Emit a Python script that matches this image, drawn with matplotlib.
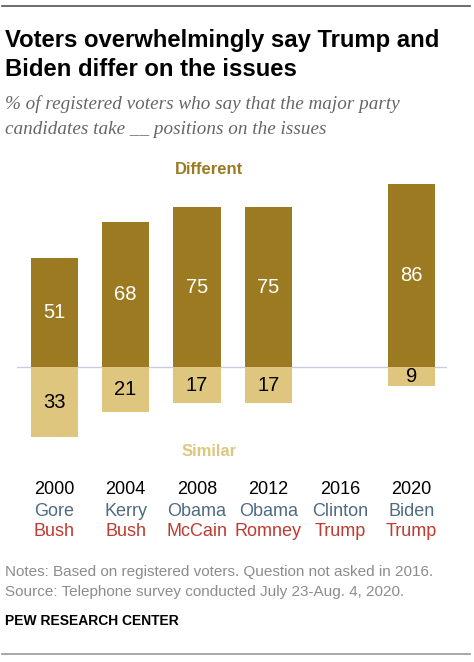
#!/usr/bin/env python3
import matplotlib
matplotlib.use('Agg')
import matplotlib.pyplot as plt
from matplotlib.transforms import blended_transform_factory

years = ['2000', '2004', '2008', '2012', '2016', '2020']
dem_candidates = ['Gore', 'Kerry', 'Obama', 'Obama', 'Clinton', 'Biden']
rep_candidates = ['Bush', 'Bush', 'McCain', 'Romney', 'Trump', 'Trump']
different = [51, 68, 75, 75, None, 86]
similar = [33, 21, 17, 17, None, 9]

DARK = '#9b7a22'
LIGHT = '#dfc67e'
DEM = '#4f6b80'
REP = '#bf3a2f'

W, H = 474, 662


def fy(px):
    # pixel from top -> figure fraction
    return 1 - px / H


def fx(px):
    return px / W


def main():
    plt.rcParams['font.family'] = ['Liberation Sans', 'DejaVu Sans']
    fig = plt.figure(figsize=(W / 100, H / 100), dpi=100)

    # plot area: x from 17 to 447 px, y from 160 to 460 px
    ax = fig.add_axes([fx(17), fy(460), fx(447) - fx(17), (460 - 160) / H])
    ax.set_xlim(-0.52, 5.5)
    ax.set_ylim(-43.7, 97.2)
    ax.axis('off')

    ax.axhline(0, color='#c8cce0', lw=1, zorder=1)

    for i in range(len(years)):
        d, s = different[i], similar[i]
        if d is None:
            continue
        ax.bar(i, d, width=0.66, color=DARK, zorder=2)
        ax.bar(i, -s, width=0.66, color=LIGHT, zorder=2)
        ax.text(i, d / 2, str(d), ha='center', va='center', color='white', fontsize=14.5)
        ax.text(i, -s / 2, str(s), ha='center', va='center', color='black', fontsize=14.5)

    tr = blended_transform_factory(ax.transData, fig.transFigure)
    for i in range(len(years)):
        ax.text(i, fy(490), years[i], transform=tr, ha='center', va='center',
                fontsize=13, color='black')
        ax.text(i, fy(511), dem_candidates[i], transform=tr, ha='center', va='center',
                fontsize=13, color=DEM)
        ax.text(i, fy(532), rep_candidates[i], transform=tr, ha='center', va='center',
                fontsize=13, color=REP)

    fig.text(fx(209), fy(170), 'Different', ha='center', va='center',
             fontsize=12, fontweight='bold', color=DARK)
    fig.text(fx(209), fy(452), 'Similar', ha='center', va='center',
             fontsize=12, fontweight='bold', color=LIGHT)

    # title & subtitle
    fig.text(fx(5), fy(40), 'Voters overwhelmingly say Trump and', ha='left', va='center',
             fontsize=17.2, fontweight='bold', color='black')
    fig.text(fx(5), fy(70), 'Biden differ on the issues', ha='left', va='center',
             fontsize=17.2, fontweight='bold', color='black')
    fig.text(fx(5), fy(104), '% of registered voters who say that the major party',
             ha='left', va='center', fontsize=13.8, style='italic', color='#666666',
             family=['Liberation Serif', 'DejaVu Serif'])
    fig.text(fx(5), fy(129), 'candidates take __ positions on the issues',
             ha='left', va='center', fontsize=13.8, style='italic', color='#666666',
             family=['Liberation Serif', 'DejaVu Serif'])

    # notes
    fig.text(fx(5), fy(572), 'Notes: Based on registered voters. Question not asked in 2016.',
             ha='left', va='center', fontsize=11, color='#8c8c8c')
    fig.text(fx(5), fy(592), 'Source: Telephone survey conducted July 23-Aug. 4, 2020.',
             ha='left', va='center', fontsize=11, color='#8c8c8c')
    fig.text(fx(5), fy(621), 'PEW RESEARCH CENTER', ha='left', va='center',
             fontsize=10, fontweight='bold', color='black')

    # rules top and bottom
    fig.add_artist(plt.Line2D([fx(2), fx(470)], [fy(6), fy(6)], color='#555555', lw=1.2))
    fig.add_artist(plt.Line2D([fx(2), fx(470)], [fy(654), fy(654)], color='#999999', lw=1.2))

    fig.savefig('out.png', dpi=100)


if __name__ == "__main__":
    main()
